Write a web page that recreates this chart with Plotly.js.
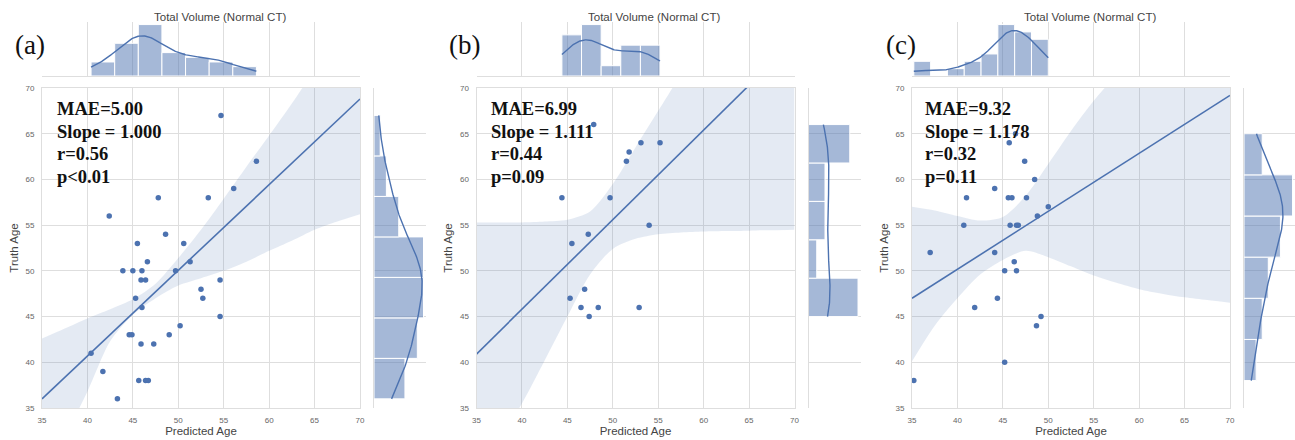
<!DOCTYPE html>
<html><head><meta charset="utf-8">
<script src="https://cdn.plot.ly/plotly-3.0.1.min.js"></script>
<style>html,body{margin:0;padding:0;background:#fff}#chart{width:1295px;height:440px}</style>
</head><body><div id="chart"></div>
<script>
// ---------- data ----------
const panelLabels = ['(a)', '(b)', '(c)'];
const histTitle = 'Total Volume (Normal CT)';
const xTitle = 'Predicted Age';
const yTitle = 'Truth Age';
const tickVals = [35, 40, 45, 50, 55, 60, 65, 70];

const predA = [54.7,58.6,56.1,47.8,53.3,42.4,48.6,45.5,50.6,46.6,51.3,43.9,45.0,46.0,49.7,45.9,46.4,54.6,52.5,45.3,52.7,46.0,54.6,50.2,44.6,44.9,49.0,45.9,47.3,40.4,41.7,45.65,46.4,46.7,43.3];
const truthA = [67,62,59,58,58,56,54,53,53,51,51,50,50,50,50,49,49,49,48,47,47,46,45,44,43,43,43,42,42,41,39,38,38,38,36];

const predB = [47.9,53.1,55.2,51.8,51.5,44.4,49.7,54.0,47.3,45.5,46.9,45.3,46.5,48.4,52.9,47.4];
const truthB = [66,64,64,63,62,58,58,55,54,53,48,47,46,46,46,45];

const predC = [46.4,45.7,47.4,48.5,44.1,41.0,45.6,46.0,47.6,50.0,48.8,40.7,45.8,46.5,46.7,37.0,44.1,46.25,45.2,46.5,44.4,41.9,49.2,48.7,45.2,35.2];
const truthC = [65,64,62,60,59,58,58,58,58,57,56,55,55,55,55,52,52,51,50,50,47,46,45,44,40,38];

const statsA = ['MAE=5.00', 'Slope = 1.000', 'r=0.56', 'p<0.01'];
const statsB = ['MAE=6.99', 'Slope = 1.111', 'r=0.44', 'p=0.09'];
const statsC = ['MAE=9.32', 'Slope = 1.178', 'r=0.32', 'p=0.11'];

const binsTop = [7, 5, 8];
const binsRight = [7, 5, 6];

// fitted line end points
const regX = [35, 70];
const regYA = [36.0, 68.8];
const regYB = [40.9, 75.2];
const regYC = [47.0, 69.2];

// confidence band
const ciX = [35, 37.5, 40, 42.5, 45, 47.5, 50, 52.5, 55, 57.5, 60, 62.5, 65, 67.5, 70];
const ciHiA = [42.6, 43.7, 44.8, 45.8, 46.9, 48.6, 51.4, 54.5, 57.9, 61.4, 64.8, 68.3, 72.0, 75.5, 79.0];
const ciLoA = [28.5, 32.0, 36.8, 42.3, 45.2, 47.0, 48.4, 49.2, 50.0, 51.0, 52.2, 53.3, 54.5, 55.4, 56.2];
const ciHiB = [55.3, 55.3, 55.3, 55.4, 55.6, 56.5, 59.5, 63.5, 67.5, 71.5, 75.5, 79.0, 83.0, 86.5, 90.0];
const ciLoB = [28.0, 31.5, 35.5, 40.2, 45.0, 49.6, 52.4, 53.5, 54.0, 54.2, 54.3, 54.35, 54.4, 54.45, 54.5];
const ciHiC = [57.0, 56.6, 56.0, 55.5, 55.9, 58.2, 61.7, 65.3, 68.6, 71.5, 74.5, 77.2, 80.0, 82.5, 85.0];
const ciLoC = [40.1, 44.0, 47.0, 49.6, 51.2, 52.2, 51.5, 50.5, 49.5, 48.7, 48.0, 47.5, 47.1, 46.8, 46.5];

// ---------- helpers ----------
const W = 1295, H = 440;
const BLUE = '#4c72b0';
const BAR = 'rgba(76,114,176,0.5)';
const BAND = 'rgba(76,114,176,0.15)';
const GRID = '#dedede';
const dx = p => p / W;
const dy = p => 1 - p / H;

function hist(vals, nb) {
  const lo = Math.min(...vals), hi = Math.max(...vals), w = (hi - lo) / nb;
  const counts = new Array(nb).fill(0);
  vals.forEach(v => { let i = Math.floor((v - lo) / w); if (i >= nb) i = nb - 1; if (i < 0) i = 0; counts[i]++; });
  const centers = counts.map((_, i) => lo + w * (i + 0.5));
  return {counts, centers, w, lo, hi};
}
function kde(vals, lo, hi, scale) {
  const n = vals.length;
  const m = vals.reduce((a, b) => a + b, 0) / n;
  const sd = Math.sqrt(vals.reduce((a, b) => a + (b - m) * (b - m), 0) / (n - 1));
  const bw = sd * Math.pow(n, -0.2);
  const xs = [], ys = [];
  for (let k = 0; k <= 200; k++) {
    const x = lo + (hi - lo) * k / 200;
    let s = 0;
    vals.forEach(v => { const z = (x - v) / bw; s += Math.exp(-0.5 * z * z); });
    xs.push(x); ys.push(s / (n * bw * Math.sqrt(2 * Math.PI)) * scale);
  }
  return {xs, ys};
}

const panels = [
  {px: predA, ty: truthA, stats: statsA, regY: regYA, hiB: ciHiA, loB: ciLoA},
  {px: predB, ty: truthB, stats: statsB, regY: regYB, hiB: ciHiB, loB: ciLoB},
  {px: predC, ty: truthC, stats: statsC, regY: regYC, hiB: ciHiC, loB: ciLoC}
];
const mainLeft = [42, 476.5, 912];
const mainW = 318;
const mainTop = 88, mainBot = 408;
const topTop = 22, topBot = 76;
const rightGap = 332, rightW = 52;

const traces = [];
const layout = {
  width: W, height: H, margin: {l: 0, r: 0, t: 0, b: 0},
  paper_bgcolor: '#fff', plot_bgcolor: '#fff', showlegend: false,
  font: {family: 'Liberation Sans, Arial, sans-serif', color: '#444'},
  annotations: [], bargap: 0
};
const tickFont = {family: 'Liberation Sans, Arial, sans-serif', size: 8, color: '#666'};
const axName = (l, n) => l + 'axis' + (n === 1 ? '' : n);
const ref = (l, n) => l + (n === 1 ? '' : n);

panels.forEach((p, i) => {
  const nM = 3 * i + 1, nT = 3 * i + 2, nR = 3 * i + 3;
  const L = mainLeft[i];
  const xM = ref('x', nM), yM = ref('y', nM), xT = ref('x', nT), yT = ref('y', nT), xR = ref('x', nR), yR = ref('y', nR);

  // band
  traces.push({type: 'scatter', mode: 'lines', x: ciX, y: p.loB, xaxis: xM, yaxis: yM,
    line: {width: 0, shape: 'spline', smoothing: 0.8}, hoverinfo: 'skip'});
  traces.push({type: 'scatter', mode: 'lines', x: ciX, y: p.hiB, xaxis: xM, yaxis: yM, fill: 'tonexty',
    fillcolor: BAND, line: {width: 0, shape: 'spline', smoothing: 0.8}, hoverinfo: 'skip'});
  // regression line
  traces.push({type: 'scatter', mode: 'lines', x: regX, y: p.regY, xaxis: xM, yaxis: yM,
    line: {color: BLUE, width: 1.6}});
  // points
  traces.push({type: 'scatter', mode: 'markers', x: p.px, y: p.ty, xaxis: xM, yaxis: yM,
    marker: {color: BLUE, size: 5.5}, cliponaxis: true});

  // top histogram
  const hx = hist(p.px, binsTop[i]);
  traces.push({type: 'bar', x: hx.centers, y: hx.counts, width: hx.w, xaxis: xT, yaxis: yT,
    marker: {color: BAR, line: {color: '#fff', width: 1}}});
  const kx = kde(p.px, hx.lo, hx.hi, p.px.length * hx.w);
  traces.push({type: 'scatter', mode: 'lines', x: kx.xs, y: kx.ys, xaxis: xT, yaxis: yT,
    line: {color: BLUE, width: 1.4}});
  const maxTop = Math.max(...hx.counts);

  // right histogram
  const hy = hist(p.ty, binsRight[i]);
  traces.push({type: 'bar', orientation: 'h', y: hy.centers, x: hy.counts, width: hy.w, xaxis: xR, yaxis: yR,
    marker: {color: BAR, line: {color: '#fff', width: 1}}});
  const ky = kde(p.ty, hy.lo, hy.hi, p.ty.length * hy.w);
  traces.push({type: 'scatter', mode: 'lines', y: ky.xs, x: ky.ys, xaxis: xR, yaxis: yR,
    line: {color: BLUE, width: 1.4}});
  const maxRight = Math.max(...hy.counts);

  const mainDomX = [dx(L), dx(L + mainW)];
  const mainDomY = [dy(mainBot), dy(mainTop)];

  layout[axName('x', nM)] = {domain: mainDomX, anchor: yM, range: [35, 70], tickvals: tickVals,
    showgrid: true, gridcolor: GRID, gridwidth: 1, zeroline: false, showline: true, linecolor: GRID, mirror: true,
    ticks: '', tickfont: tickFont, ticklabelstandoff: 4,
    title: {text: xTitle, font: {size: 11.5, color: '#444'}, standoff: 2}};
  layout[axName('y', nM)] = {domain: mainDomY, anchor: xM, range: [35, 70], tickvals: tickVals,
    showgrid: true, gridcolor: GRID, gridwidth: 1, zeroline: false, showline: true, linecolor: GRID, mirror: true,
    ticks: '', tickfont: tickFont, ticklabelstandoff: 5,
    title: {text: yTitle, font: {size: 11.5, color: '#444'}, standoff: 4}};

  layout[axName('x', nT)] = {domain: mainDomX, anchor: yT, range: [35, 70], tickvals: tickVals,
    showgrid: true, gridcolor: GRID, zeroline: false, showline: true, linecolor: GRID, mirror: false,
    showticklabels: false, ticks: ''};
  layout[axName('y', nT)] = {domain: [dy(topBot), dy(topTop)], anchor: xT, range: [0, maxTop * 1.05],
    showgrid: false, zeroline: false, showline: false, showticklabels: false, ticks: ''};

  layout[axName('x', nR)] = {domain: [dx(L + rightGap), dx(Math.min(W, L + rightGap + rightW))], anchor: yR,
    range: [0, maxRight * 1.05], showgrid: false, zeroline: false, showline: false, showticklabels: false, ticks: ''};
  layout[axName('y', nR)] = {domain: mainDomY, anchor: xR, range: [35, 70], tickvals: tickVals,
    showgrid: true, gridcolor: GRID, zeroline: false, showline: true, linecolor: GRID, mirror: false,
    showticklabels: false, ticks: ''};

  // stats text
  const lineY = [109, 131.6, 154.2, 176.8];
  const textLeft = [55, 489, 923][i];
  p.stats.forEach((s, k) => {
    layout.annotations.push({xref: 'paper', yref: 'paper', x: dx(textLeft), y: dy(lineY[k]),
      xanchor: 'left', yanchor: 'middle', showarrow: false, text: '<b>' + s + '</b>',
      font: {family: 'Liberation Serif, Times New Roman, serif', size: 18.5, color: '#111'}});
  });
  // panel label
  layout.annotations.push({xref: 'paper', yref: 'paper', x: dx([30, 464.5, 901][i]), y: dy(45),
    xanchor: 'center', yanchor: 'middle', showarrow: false, text: panelLabels[i],
    font: {family: 'Liberation Serif, Times New Roman, serif', size: 27, color: '#111'}});
  // marginal title
  layout.annotations.push({xref: 'paper', yref: 'paper', x: dx(L + mainW / 2 + 18.5), y: dy(16.7),
    xanchor: 'center', yanchor: 'middle', showarrow: false, text: histTitle,
    font: {family: 'Liberation Sans, Arial, sans-serif', size: 11.5, color: '#444'}});
});

Plotly.newPlot('chart', traces, layout, {displayModeBar: false, staticPlot: true});
</script>
</body></html>
